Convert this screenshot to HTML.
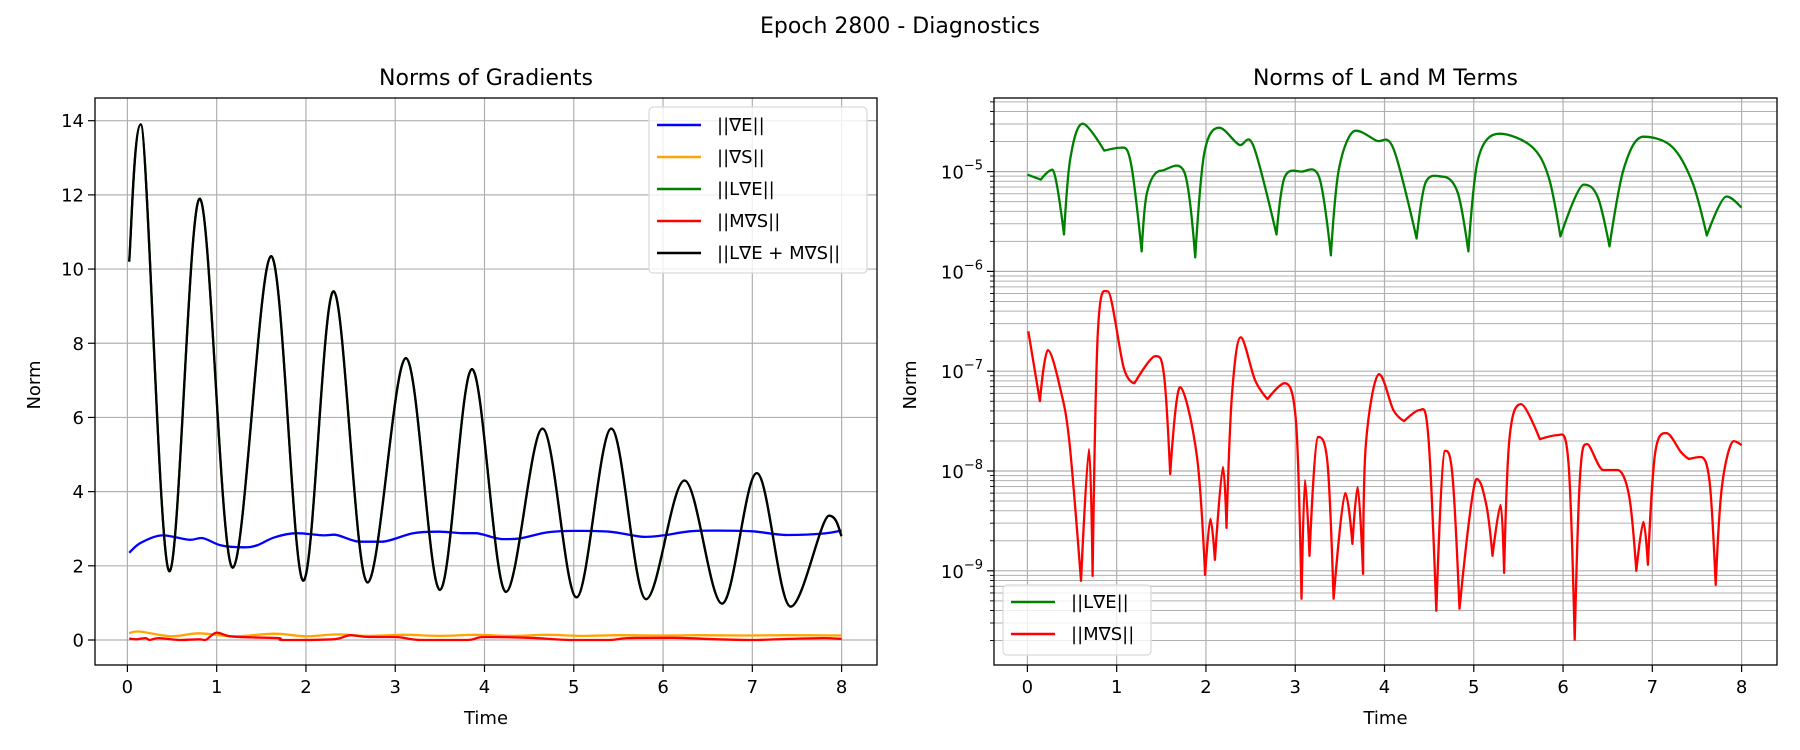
<!DOCTYPE html>
<html><head><meta charset="utf-8"><style>
html,body{margin:0;padding:0;background:#fff;}
svg{display:block;font-family:"DejaVu Sans","Liberation Sans",sans-serif;}
</style></head><body>
<svg id="fig" width="1800" height="750" viewBox="0 0 1800 750" xmlns="http://www.w3.org/2000/svg">
<rect width="1800" height="750" fill="#fff"/>
<text x="900" y="33" text-anchor="middle" font-size="22">Epoch 2800 - Diagnostics</text>
<g id="left"></g>
<g id="right"></g>
</svg>
<script>
const timeTicks=[0,1,2,3,4,5,6,7,8];
const normTicks=[0,2,4,6,8,10,12,14];
const logDecades=[-9,-8,-7,-6,-5];
// series: [time, value]
const gradE=[[0.02,2.35],[0.15,2.62],[0.4,2.82],[0.7,2.7],[0.83,2.75],[1.05,2.55],[1.3,2.5],[1.45,2.55],[1.65,2.77],[1.9,2.88],[2.2,2.82],[2.32,2.84],[2.6,2.65],[2.85,2.65],[3.2,2.88],[3.5,2.92],[3.75,2.88],[3.9,2.88],[4.2,2.72],[4.4,2.74],[4.7,2.9],[5.0,2.94],[5.4,2.92],[5.8,2.78],[6.0,2.82],[6.3,2.93],[6.6,2.95],[7.0,2.93],[7.4,2.83],[7.8,2.87],[8.0,2.95]];
const gradS=[[0.02,0.18],[0.12,0.23],[0.5,0.1],[0.8,0.18],[1.2,0.1],[1.65,0.17],[2.0,0.1],[2.35,0.15],[2.7,0.11],[3.1,0.14],[3.5,0.11],[3.9,0.14],[4.3,0.11],[4.7,0.14],[5.1,0.11],[5.5,0.13],[6.0,0.12],[6.4,0.13],[6.9,0.12],[7.4,0.13],[8.0,0.12]];
const gradLE=[[0.02,10.2],[0.15,13.9],[0.47,1.85],[0.81,11.9],[1.18,1.95],[1.61,10.35],[1.97,1.6],[2.31,9.4],[2.69,1.55],[3.12,7.6],[3.5,1.35],[3.86,7.3],[4.24,1.3],[4.65,5.7],[5.03,1.15],[5.42,5.7],[5.81,1.1],[6.24,4.3],[6.66,0.98],[7.05,4.5],[7.43,0.9],[7.86,3.35],[8.0,2.8]];
const gradMS=[[0.02,0.04],[0.1,0.02],[0.2,0.05],[0.25,0.0],[0.35,0.05],[0.6,0.0],[0.8,0.02],[0.87,0.0],[1.0,0.2],[1.15,0.1],[1.4,0.07],[1.7,0.05],[1.75,0.0],[2.3,0.02],[2.5,0.13],[2.7,0.08],[3.0,0.08],[3.3,0.0],[3.8,0.0],[4.0,0.08],[4.5,0.06],[5.0,0.0],[5.4,0.0],[5.6,0.05],[6.1,0.06],[6.6,0.02],[7.0,0.0],[7.4,0.03],[7.8,0.05],[8.0,0.03]];
const gradSum=[[0.02,10.2],[0.15,13.9],[0.47,1.85],[0.81,11.9],[1.18,1.95],[1.61,10.35],[1.97,1.6],[2.31,9.4],[2.69,1.55],[3.12,7.6],[3.5,1.35],[3.86,7.3],[4.24,1.3],[4.65,5.7],[5.03,1.15],[5.42,5.7],[5.81,1.1],[6.24,4.3],[6.66,0.98],[7.05,4.5],[7.43,0.9],[7.86,3.35],[8.0,2.8]];
// log10 values
const logLE=[[0,-5.03],[0.15,-5.08],[0.28,-4.98],[0.41,-5.63],[0.48,-4.87],[0.62,-4.52],[0.86,-4.79],[1.05,-4.76],[1.16,-4.92],[1.28,-5.8],[1.34,-5.21],[1.5,-4.99],[1.76,-5.01],[1.88,-5.86],[1.98,-4.82],[2.15,-4.56],[2.37,-4.73],[2.53,-4.74],[2.79,-5.63],[2.88,-5.06],[3.07,-5.0],[3.27,-5.06],[3.4,-5.84],[3.49,-4.97],[3.68,-4.59],[3.91,-4.69],[4.1,-4.77],[4.36,-5.67],[4.46,-5.11],[4.65,-5.05],[4.82,-5.21],[4.94,-5.8],[5.05,-4.87],[5.29,-4.62],[5.65,-4.75],[5.84,-5.06],[5.97,-5.65],[6.23,-5.13],[6.39,-5.26],[6.52,-5.75],[6.68,-4.97],[6.9,-4.65],[7.22,-4.75],[7.45,-5.11],[7.61,-5.64],[7.83,-5.25],[8,-5.36]];
const logMS=[[0.01,-6.6],[0.14,-7.3],[0.23,-6.79],[0.37,-7.18],[0.47,-7.71],[0.6,-9.1],[0.69,-7.78],[0.73,-9.05],[0.79,-6.6],[0.9,-6.2],[1.08,-6.97],[1.2,-7.12],[1.43,-6.85],[1.53,-7.04],[1.6,-8.03],[1.71,-7.16],[1.9,-7.86],[1.99,-9.04],[2.05,-8.48],[2.1,-8.89],[2.19,-7.96],[2.23,-8.57],[2.29,-7.26],[2.39,-6.66],[2.55,-7.09],[2.69,-7.28],[2.88,-7.12],[3.01,-7.52],[3.07,-9.28],[3.11,-8.09],[3.16,-8.85],[3.25,-7.66],[3.36,-7.91],[3.43,-9.28],[3.56,-8.22],[3.64,-8.73],[3.7,-8.16],[3.76,-9.03],[3.79,-7.74],[3.94,-7.03],[4.1,-7.39],[4.22,-7.5],[4.39,-7.39],[4.49,-7.64],[4.58,-9.4],[4.67,-7.8],[4.76,-8.03],[4.84,-9.38],[5.03,-8.08],[5.14,-8.34],[5.21,-8.85],[5.3,-8.34],[5.34,-9.02],[5.4,-7.67],[5.53,-7.33],[5.74,-7.68],[5.94,-7.64],[6.06,-7.91],[6.13,-9.69],[6.19,-8.06],[6.27,-7.73],[6.45,-7.99],[6.61,-7.99],[6.74,-8.25],[6.82,-9.0],[6.9,-8.51],[6.95,-8.94],[7.03,-7.83],[7.16,-7.62],[7.32,-7.81],[7.41,-7.88],[7.54,-7.86],[7.64,-8.1],[7.71,-9.14],[7.78,-8.15],[7.91,-7.7],[8,-7.74]];

const NS='http://www.w3.org/2000/svg';
function mk(parent,tag,attrs){const e=document.createElementNS(NS,tag);for(const k in attrs)e.setAttribute(k,attrs[k]);parent.appendChild(e);return e;}

function curve(pts,sx,sy,cusp){
  const P=pts.map(p=>[sx(p[0]),sy(p[1])]);
  let d='M'+P[0][0].toFixed(1)+','+P[0][1].toFixed(1);
  const tan=P.map((p,i)=>{
    const a=P[Math.max(0,i-1)],b=P[Math.min(P.length-1,i+1)];
    let tx=(b[0]-a[0])/2,ty=(b[1]-a[1])/2;
    if(i>0&&i<P.length-1){const dp=p[1]-a[1],dn=b[1]-p[1];if(dp*dn<=0)ty=0;}
    return [tx,ty];
  });
  for(let i=0;i<P.length-1;i++){
    const a=P[i],b=P[i+1];
    let c1=[a[0]+tan[i][0]/3,a[1]+tan[i][1]/3],c2=[b[0]-tan[i+1][0]/3,b[1]-tan[i+1][1]/3];
    const isMin=(k)=>k>0&&k<P.length-1&&P[k][1]>P[k-1][1]&&P[k][1]>P[k+1][1];
    if(cusp&&isMin(i))c1=a;
    if(cusp&&isMin(i+1))c2=b;
    d+=' C'+c1[0].toFixed(1)+','+c1[1].toFixed(1)+' '+c2[0].toFixed(1)+','+c2[1].toFixed(1)+' '+b[0].toFixed(1)+','+b[1].toFixed(1);
  }
  return d;
}

function frame(g,x0,x1,y0,y1,sx){
  const grid=mk(g,'g',{});
  
  
  timeTicks.forEach(t=>{mk(grid,'line',{x1:sx(t),x2:sx(t),y1:y0,y2:y1,stroke:'#b0b0b0','stroke-width':1.2});});
  const xt=mk(g,'g',{'font-size':18,'text-anchor':'middle'});
  
  
  timeTicks.forEach(t=>{mk(xt,'line',{x1:sx(t),x2:sx(t),y1:y1,y2:y1+7,stroke:'#000','stroke-width':1.2});const tx=mk(xt,'text',{x:sx(t),y:y1+28});tx.textContent=t;});
  const xl=mk(g,'text',{x:(x0+x1)/2,y:724,'font-size':18,'text-anchor':'middle'});
  xl.textContent='Time';
  
  
  return grid;
}
function border(g,x0,x1,y0,y1){const r=mk(g,'rect',{x:x0,y:y0,width:x1-x0,height:y1-y0,fill:'none',stroke:'#000','stroke-width':1.3});}
function legend(g,x,y,w,h,items,startY){
  const lg=mk(g,'g',{});
  
  
  mk(lg,'rect',{x:x,y:y,width:w,height:h,rx:4,fill:'#fff','fill-opacity':0.8,stroke:'#d9d9d9','stroke-width':1.2});
  items.forEach((it,i)=>{
    const e=mk(lg,'g',{});
    
    
    const yy=startY+i*32;
    mk(e,'line',{x1:x+8,x2:x+52,y1:yy,y2:yy,stroke:it[1],'stroke-width':2.5});
    const t=mk(e,'text',{x:x+68,y:yy+6,'font-size':18});t.textContent=it[0];
  });
}

// LEFT
(function(){
  const g=document.getElementById('left');
  const x0=95,x1=877,y0=98,y1=665;
  const sx=t=>127.4+t*(841.6-127.4)/8;
  const sy=v=>640-v*(640-120.7)/14;
  const t=mk(g,'text',{x:(x0+x1)/2,y:85,'font-size':22,'text-anchor':'middle'});t.textContent='Norms of Gradients';
  
  const grid=frame(g,x0,x1,y0,y1,sx);
  normTicks.forEach(v=>mk(grid,'line',{x1:x0,x2:x1,y1:sy(v),y2:sy(v),stroke:'#b0b0b0','stroke-width':1.2}));
  const yt=mk(g,'g',{'font-size':18,'text-anchor':'end'});
  
  normTicks.forEach(v=>{mk(yt,'line',{x1:x0-7,x2:x0,y1:sy(v),y2:sy(v),stroke:'#000','stroke-width':1.2});const tx=mk(yt,'text',{x:x0-11,y:sy(v)+6.5});tx.textContent=v;});
  const yl=mk(g,'text',{x:0,y:0,'font-size':18,'text-anchor':'middle',transform:'translate(40,385) rotate(-90)'});yl.textContent='Norm';
  
  const series=[[gradE,'#0000ff','line-grad-e'],[gradS,'#ffa500','line-grad-s'],[gradLE,'#008000','line-l-grad-e'],[gradMS,'#ff0000','line-m-grad-s'],[gradSum,'#000000','line-sum']];
  series.forEach(s=>{const p=mk(g,'path',{d:curve(s[0],sx,sy,false),fill:'none',stroke:s[1],'stroke-width':2.3,'stroke-linejoin':'round'});});
  border(g,x0,x1,y0,y1);
  legend(g,649,107,218,166,[['||∇E||','#0000ff'],['||∇S||','#ffa500'],['||L∇E||','#008000'],['||M∇S||','#ff0000'],['||L∇E + M∇S||','#000000']],125);
})();

// RIGHT
(function(){
  const g=document.getElementById('right');
  const x0=994,x1=1777,y0=98,y1=665;
  const sx=t=>1027.4+t*(1741.6-1027.4)/8;
  const sy=l=>171.6-(l+5)*99.8;
  const t=mk(g,'text',{x:(x0+x1)/2,y:85,'font-size':22,'text-anchor':'middle'});t.textContent='Norms of L and M Terms';
  
  const grid=frame(g,x0,x1,y0,y1,sx);
  const yt=mk(g,'g',{'font-size':18,'text-anchor':'end'});
  
  for(let d=-10;d<=-4;d++){for(let m=1;m<10;m++){const l=d+Math.log10(m);const y=sy(l);if(y<y0||y>y1)continue;
    mk(grid,'line',{x1:x0,x2:x1,y1:y,y2:y,stroke:'#b0b0b0','stroke-width':m===1?1.2:1});
    mk(yt,'line',{x1:x0-(m===1?7:4),x2:x0,y1:y,y2:y,stroke:'#000','stroke-width':m===1?1.2:0.9});}}
  logDecades.forEach(d=>{const tx=mk(yt,'text',{x:x0-11,y:sy(d)+7});tx.textContent='10';const s=mk(tx,'tspan',{'font-size':13,dy:-9});s.textContent='−'+(-d);});
  const yl=mk(g,'text',{x:0,y:0,'font-size':18,'text-anchor':'middle',transform:'translate(916,385) rotate(-90)'});yl.textContent='Norm';
  
  const p1=mk(g,'path',{d:curve(logLE,sx,sy,true),fill:'none',stroke:'#008000','stroke-width':2.3,'stroke-linejoin':'round'});
  
  const p2=mk(g,'path',{d:curve(logMS,sx,sy,true),fill:'none',stroke:'#ff0000','stroke-width':2.3,'stroke-linejoin':'round'});
  
  border(g,x0,x1,y0,y1);
  legend(g,1003,585,148,70,[['||L∇E||','#008000'],['||M∇S||','#ff0000']],602);
})();
</script>
</body></html>
